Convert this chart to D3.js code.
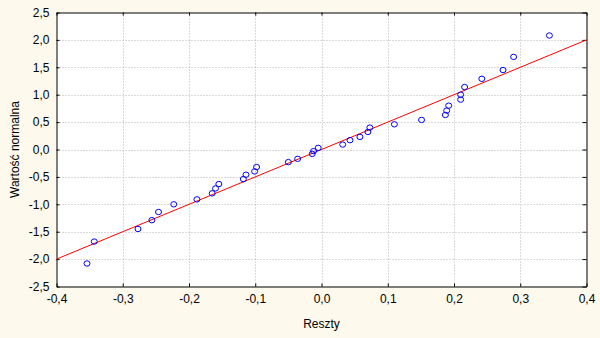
<!DOCTYPE html>
<html>
<head>
<meta charset="utf-8">
<script src="https://cdn.jsdelivr.net/npm/d3@7"></script>
<style>
  body { margin: 0; background: #fdf9ec; }
  svg { display: block; }
  text { font-family: "Liberation Sans", Arial, sans-serif; font-size: 12px; fill: #000; }
</style>
</head>
<body>
<svg id="chart" width="600" height="338"></svg>
<script>
// residuals (x) and expected normal values (y)
var residuals = [-0.354, -0.343, -0.277, -0.256, -0.246, -0.223, -0.188, -0.165, -0.160, -0.155,
                 -0.118, -0.114, -0.101, -0.098, -0.050, -0.036, -0.014, -0.012,
                 -0.005, 0.032, 0.043, 0.058, 0.070, 0.073, 0.110, 0.151, 0.187, 0.189,
                 0.192, 0.210, 0.210, 0.216, 0.242, 0.274, 0.290, 0.344];
var normalValues = [-2.08, -1.68, -1.45, -1.29, -1.14, -1.00, -0.91, -0.80, -0.71, -0.63,
                    -0.54, -0.46, -0.40, -0.32, -0.23, -0.17, -0.08, -0.03,
                    0.03, 0.09, 0.17, 0.23, 0.32, 0.40, 0.46, 0.54, 0.63, 0.71,
                    0.80, 0.91, 1.00, 1.14, 1.29, 1.45, 1.69, 2.08];
// fitted reference line
var fitX = [-0.4, 0.4];
var fitY = [-2.0, 2.0];
var xTicks = [-0.4, -0.3, -0.2, -0.1, 0, 0.1, 0.2, 0.3, 0.4];
var yTicks = [-2.5, -2.0, -1.5, -1.0, -0.5, 0, 0.5, 1.0, 1.5, 2.0, 2.5];

var plotL = 56.5, plotR = 586.5, plotT = 12.5, plotB = 286.5;

var svg = d3.select("#chart");

var pl = d3.formatLocale({decimal: ",", thousands: " ", grouping: [3], currency: ["", ""], minus: "-"});
var fmt = pl.format(".1f");

var x = d3.scaleLinear().domain([-0.4, 0.4]).range([plotL, plotR]);
var y = d3.scaleLinear().domain([-2.5, 2.5]).range([plotB, plotT]);

// plot background
svg.append("rect")
	.attr("x", plotL).attr("y", plotT)
	.attr("width", plotR - plotL).attr("height", plotB - plotT)
	.attr("fill", "#fff");

// grid
svg.append("g").selectAll("line")
	.data(xTicks.slice(1, -1))
	.enter().append("line")
	.attr("x1", function(d) { return Math.round(x(d)) + 0.5; })
	.attr("x2", function(d) { return Math.round(x(d)) + 0.5; })
	.attr("y1", plotT).attr("y2", plotB)
	.attr("stroke", "#b4b4b4")
	.attr("stroke-dasharray", "1,2");

svg.append("g").selectAll("line")
	.data(yTicks.slice(1, -1))
	.enter().append("line")
	.attr("y1", function(d) { return Math.round(y(d)) + 0.5; })
	.attr("y2", function(d) { return Math.round(y(d)) + 0.5; })
	.attr("x1", plotL).attr("x2", plotR)
	.attr("stroke", "#b4b4b4")
	.attr("stroke-dasharray", "1,2");

// axes (ticks inward)
var xb = svg.append("g").attr("transform", "translate(0," + plotB + ")")
	.call(d3.axisBottom(x).tickValues(xTicks).tickFormat(fmt).tickSizeInner(-3).tickSizeOuter(0).tickPadding(8));
var xt = svg.append("g").attr("transform", "translate(0," + plotT + ")")
	.call(d3.axisTop(x).tickValues(xTicks).tickFormat("").tickSizeInner(-3).tickSizeOuter(0));
var yl = svg.append("g").attr("transform", "translate(" + plotL + ",0)")
	.call(d3.axisLeft(y).tickValues(yTicks).tickFormat(fmt).tickSizeInner(-3).tickSizeOuter(0).tickPadding(7));
var yr = svg.append("g").attr("transform", "translate(" + plotR + ",0)")
	.call(d3.axisRight(y).tickValues(yTicks).tickFormat("").tickSizeInner(-4).tickSizeOuter(0));

[xb, xt, yl, yr].forEach(function(g) {
	g.selectAll("path").attr("stroke", "#000");
	g.selectAll("line").attr("stroke", "#000");
	g.selectAll("text").attr("font-size", 12).attr("font-family", "Liberation Sans, Arial, sans-serif").attr("fill", "#000");
});

// fitted line
svg.append("line")
	.attr("x1", x(fitX[0])).attr("y1", y(fitY[0]))
	.attr("x2", x(fitX[1])).attr("y2", y(fitY[1]))
	.attr("stroke", "#ff0000")
	.attr("stroke-width", 1);

// points
svg.append("g").selectAll("ellipse")
	.data(residuals)
	.enter().append("ellipse")
	.attr("cx", function(d) { return x(d); })
	.attr("cy", function(d, i) { return y(normalValues[i]); })
	.attr("rx", 3)
	.attr("ry", 2.7)
	.attr("fill", "none")
	.attr("stroke", "#0000ff")
	.attr("stroke-width", 1);

// axis titles
svg.append("text")
	.attr("x", (plotL + plotR) / 2)
	.attr("y", 328)
	.attr("text-anchor", "middle")
	.text("Reszty");

svg.append("text")
	.attr("transform", "translate(19," + ((plotT + plotB) / 2) + ") rotate(-90)")
	.attr("text-anchor", "middle")
	.text("Wartość normalna");
</script>
</body>
</html>
